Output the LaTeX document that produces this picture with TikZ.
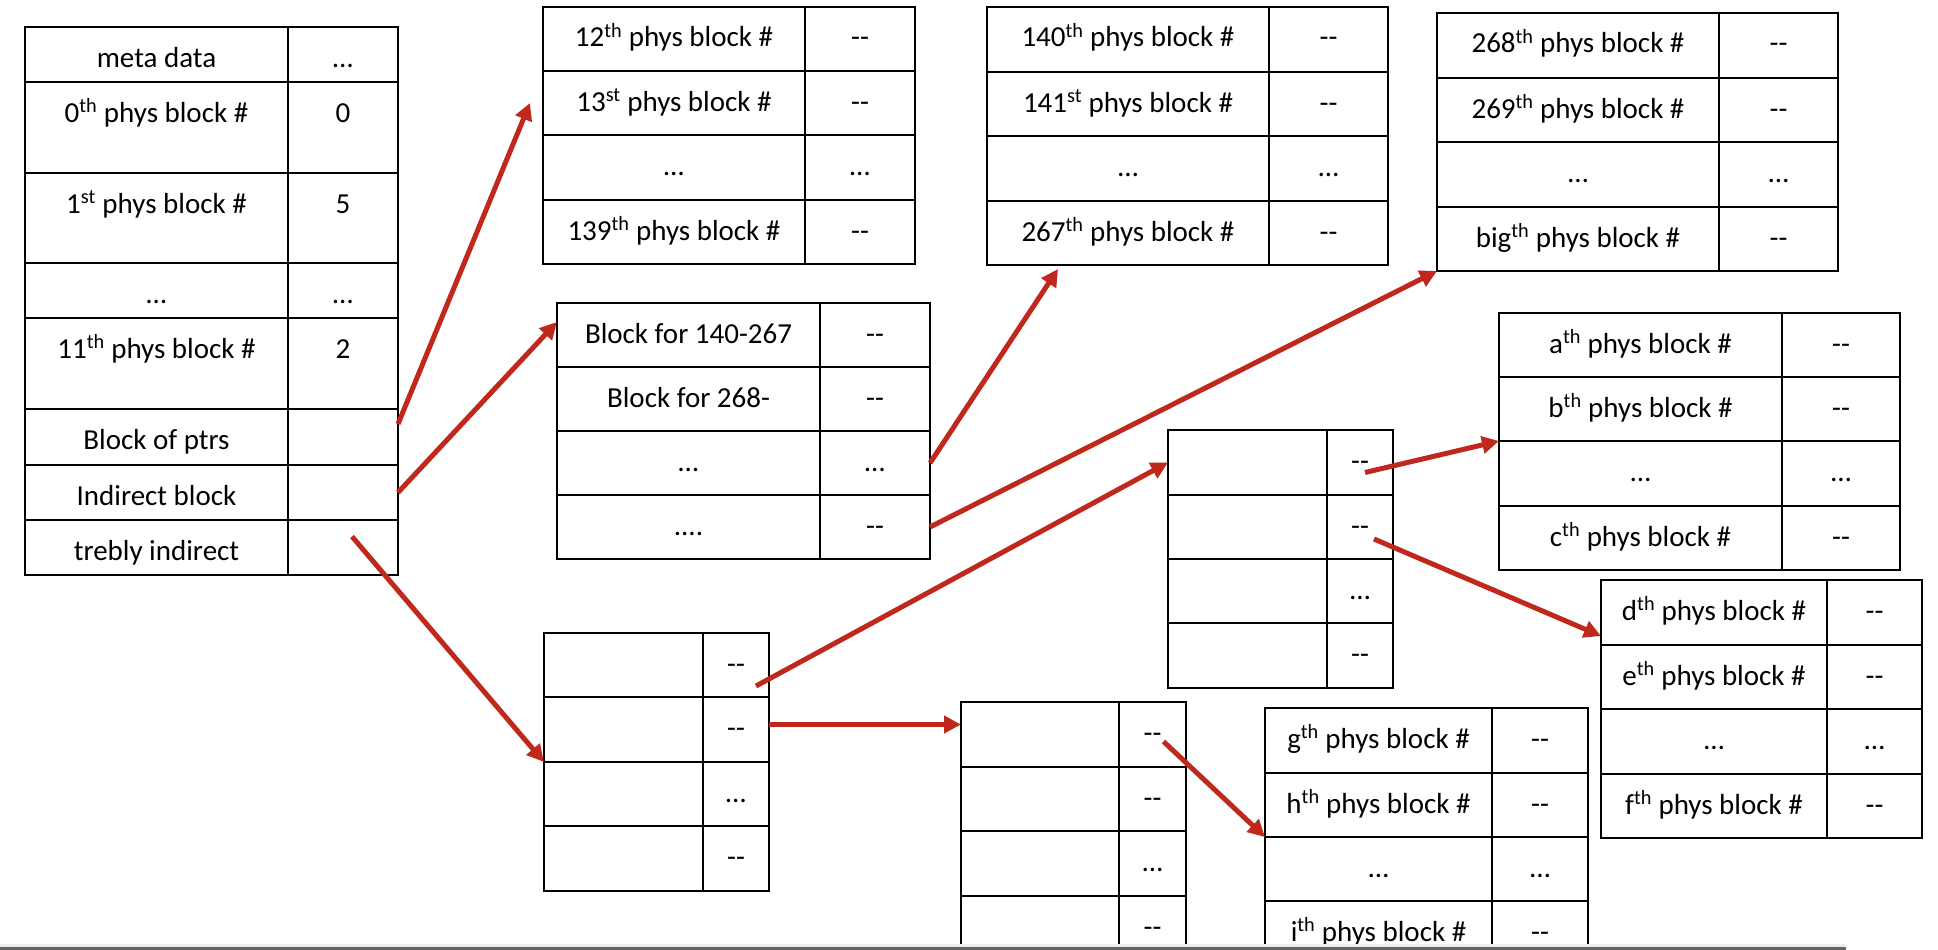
\documentclass[tikz,border=0pt]{standalone}
\usepackage{fontspec}
\newfontfamily\calib{Carlito}
\usetikzlibrary{arrows.meta}
\definecolor{arrred}{RGB}{192,40,30}
\definecolor{barG}{RGB}{100,100,100}
\definecolor{barL}{RGB}{238,238,238}
\tikzset{
  cell/.style={draw=black, line width=2.5pt, anchor=north west, inner sep=0pt, outer sep=0pt},
  lbl/.style={anchor=base, inner sep=0pt, font=\calib\fontsize{29}{35}\selectfont},
  arr/.style={draw=arrred, line width=5pt, -{Triangle[length=17pt,width=17pt]}},
}
% #1 name, #2 x0, #3 xdiv, #4 x1, #5 ytop, #6 ybot, #7 left text, #8 right text
\newcommand{\trow}[8]{%
  \pgfmathsetmacro\wa{#3-#2}\pgfmathsetmacro\wb{#4-#3}\pgfmathsetmacro\hh{#6-#5}%
  \node[cell, minimum width=\wa pt, minimum height=\hh pt] (#1a) at (#2,#5) {};
  \node[cell, minimum width=\wb pt, minimum height=\hh pt] (#1b) at (#3,#5) {};
  \node[lbl] (#1ta) at ([yshift=-40pt]#1a.north) {#7};
  \node[lbl] (#1tb) at ([yshift=-40pt]#1b.north) {#8};
}
\newcommand{\sth}{\textsuperscript{th}}
\newcommand{\sst}{\textsuperscript{st}}
\begin{document}
\begin{tikzpicture}[x=1pt, y=-1pt]
\useasboundingbox (0,0) rectangle (1938,950);
\begin{scope}
\clip (0,0) rectangle (1938,945);
% main table
\trow{M1}{25}{288}{398}{27}{82}{meta data}{…}
\trow{M2}{25}{288}{398}{82}{173}{0\sth{} phys block \#}{0}
\trow{M3}{25}{288}{398}{173}{263}{1\sst{} phys block \#}{5}
\trow{M4}{25}{288}{398}{263}{318}{…}{…}
\trow{M5}{25}{288}{398}{318}{409}{11\sth{} phys block \#}{2}
\trow{M6}{25}{288}{398}{409}{465}{Block of ptrs}{}
\trow{M7}{25}{288}{398}{465}{520}{Indirect block}{}
\trow{M8}{25}{288}{398}{520}{575}{trebly indirect}{}
% T1
\trow{Ar1}{543}{805}{915}{7}{71}{12\sth{} phys block \#}{--}
\trow{Ar2}{543}{805}{915}{71}{135}{13\sst{} phys block \#}{--}
\trow{Ar3}{543}{805}{915}{135}{200}{…}{…}
\trow{Ar4}{543}{805}{915}{200}{264}{139\sth{} phys block \#}{--}
% T2
\trow{Br1}{557}{820}{930}{303}{367}{Block for 140-267}{--}
\trow{Br2}{557}{820}{930}{367}{431}{Block for 268-}{--}
\trow{Br3}{557}{820}{930}{431}{495}{…}{…}
\trow{Br4}{557}{820}{930}{495}{559}{....}{--}
% T3
\trow{Cr1}{987}{1269}{1388}{7}{72}{140\sth{} phys block \#}{--}
\trow{Cr2}{987}{1269}{1388}{72}{136}{141\sst{} phys block \#}{--}
\trow{Cr3}{987}{1269}{1388}{136}{201}{…}{…}
\trow{Cr4}{987}{1269}{1388}{201}{265}{267\sth{} phys block \#}{--}
% T4
\trow{Dr1}{1437}{1719}{1838}{13}{78}{268\sth{} phys block \#}{--}
\trow{Dr2}{1437}{1719}{1838}{78}{142}{269\sth{} phys block \#}{--}
\trow{Dr3}{1437}{1719}{1838}{142}{207}{…}{…}
\trow{Dr4}{1437}{1719}{1838}{207}{271}{big\sth{} phys block \#}{--}
% T5
\trow{Er1}{1499}{1782}{1900}{313}{377}{a\sth{} phys block \#}{--}
\trow{Er2}{1499}{1782}{1900}{377}{441}{b\sth{} phys block \#}{--}
\trow{Er3}{1499}{1782}{1900}{441}{506}{…}{…}
\trow{Er4}{1499}{1782}{1900}{506}{570}{c\sth{} phys block \#}{--}
% T6
\trow{Fr1}{1601}{1827}{1922}{580}{645}{d\sth{} phys block \#}{--}
\trow{Fr2}{1601}{1827}{1922}{645}{709}{e\sth{} phys block \#}{--}
\trow{Fr3}{1601}{1827}{1922}{709}{774}{…}{…}
\trow{Fr4}{1601}{1827}{1922}{774}{838}{f\sth{} phys block \#}{--}
% T7
\trow{Gr1}{1168}{1327}{1393}{430}{495}{}{--}
\trow{Gr2}{1168}{1327}{1393}{495}{559}{}{--}
\trow{Gr3}{1168}{1327}{1393}{559}{623}{}{…}
\trow{Gr4}{1168}{1327}{1393}{623}{688}{}{--}
% T8
\trow{Hr1}{1265}{1492}{1588}{708}{773}{g\sth{} phys block \#}{--}
\trow{Hr2}{1265}{1492}{1588}{773}{837}{h\sth{} phys block \#}{--}
\trow{Hr3}{1265}{1492}{1588}{837}{901}{…}{…}
\trow{Hr4}{1265}{1492}{1588}{901}{965}{i\sth{} phys block \#}{--}
% T9
\trow{Ir1}{544}{703}{769}{633}{697}{}{--}
\trow{Ir2}{544}{703}{769}{697}{762}{}{--}
\trow{Ir3}{544}{703}{769}{762}{826}{}{…}
\trow{Ir4}{544}{703}{769}{826}{891}{}{--}
% T10
\trow{Jr1}{961}{1119}{1186}{702}{767}{}{--}
\trow{Jr2}{961}{1119}{1186}{767}{831}{}{--}
\trow{Jr3}{961}{1119}{1186}{831}{896}{}{…}
\trow{Jr4}{961}{1119}{1186}{896}{960}{}{--}
\end{scope}
% arrow anchors
\coordinate (a1s) at ([yshift=13pt]M6b.east);
\coordinate (a1e) at ([xshift=-13pt]Ar2a.west);
\coordinate (a3s) at ([shift={(9pt,11pt)}]M8b.center);
\coordinate (a6s) at ([shift={(20pt,-21pt)}]Ir1b.center);
\coordinate (a7s) at ([yshift=5pt]Ir2b.east);
\coordinate (a8s) at ([shift={(5pt,-10pt)}]Gr1b.center);
\coordinate (a9s) at ([shift={(14pt,-12pt)}]Gr2b.center);
\coordinate (a10s) at ([shift={(11pt,-7pt)}]Jr1b.center);
% arrows
\draw[arr] (a1s) -- (a1e);
\draw[arr] (M7b.east) -- ([yshift=13pt]Br1a.west);
\draw[arr] (a3s) -- (Ir2a.south west);
\draw[arr] (Br3b.east) -- ([shift={(-70pt,-4pt)}]Cr4a.south);
\draw[arr] (Br4b.east) -- (Dr4a.south west);
\draw[arr] (a6s) -- (Gr1a.west);
\draw[arr] (a7s) -- (a7s -| Jr1a.west);
\draw[arr] (a8s) -- (Er3a.north west);
\draw[arr] (a9s) -- ([yshift=9pt]Fr1a.south west);
\draw[arr] (a10s) -- (Hr2a.south west);
% bottom bar
\fill[barL] (0,944) rectangle (1846,947);
\fill[barG] (0,947) rectangle (1846,950);
\end{tikzpicture}
\end{document}
